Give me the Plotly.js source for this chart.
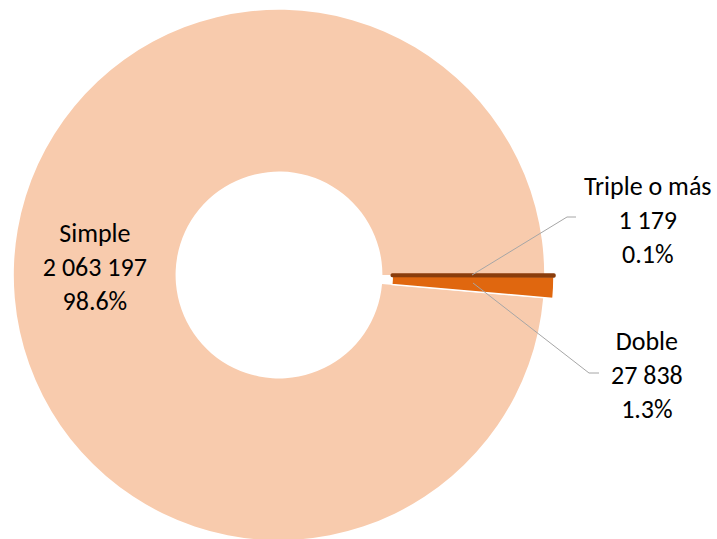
<!DOCTYPE html>
<html>
<head>
<meta charset="utf-8">
<script src="https://cdn.plot.ly/plotly-3.0.1.min.js"></script>
<style>
html,body{margin:0;padding:0;overflow:hidden;background:#fff;}
#chart{width:717px;height:550px;}
</style>
</head>
<body>
<div id="chart"></div>
<script>
const categories = ['Simple', 'Doble', 'Triple o más'];
const values = [2063197, 27838, 1179];
const colors = ['#F8CBAD', '#E0670F', '#8A3D0C'];

const W = 717, H = 550;
const FONT = 'Carlito, Calibri, Lato, sans-serif';
const total = values.reduce((a, b) => a + b, 0);
function fmt(v) { return String(v).replace(/\B(?=(\d{3})+(?!\d))/g, ' '); }
function pct(v) { return (v / total * 100).toFixed(1) + '%'; }
function px(x) { return x / W; }
function py(y) { return 1 - y / H; }

// small slices sit just at / below 3 o'clock
const rotation = 90 + (values[1] + values[2]) / total * 360;

const trace = {
  type: 'pie',
  labels: categories,
  values: values,
  sort: false,
  direction: 'counterclockwise',
  rotation: rotation,
  hole: 0.39,
  pull: [0, 0.037, 0.037],
  marker: {
    colors: colors,
    line: { color: ['#FFFFFF', '#FFFFFF', colors[2]], width: [0, 1.5, 3.5] }
  },
  texttemplate: ['%{label}<br>%{value:,}<br>%{percent:.1%}', '', ''],
  textposition: ['inside', 'none', 'none'],
  insidetextorientation: 'horizontal',
  insidetextfont: { family: FONT, size: 26, color: '#000000' },
  domain: { x: [px(279 - 275), px(279 + 275)], y: [0, 1] },
  showlegend: false,
  hoverinfo: 'label+value+percent'
};

// outside labels for the two small slices (Doble, Triple o más)
const labelPos = { 1: [647, 375], 2: [648, 220] };
const annotations = [1, 2].map(i => ({
  xref: 'paper', yref: 'paper',
  x: px(labelPos[i][0]), y: py(labelPos[i][1]),
  xanchor: 'center', yanchor: 'middle', align: 'center',
  showarrow: false,
  text: categories[i] + '<br>' + fmt(values[i]) + '<br>' + pct(values[i]),
  font: { family: FONT, size: 26, color: '#000000' }
}));

function pathOf(pts) {
  return pts.map((p, k) => (k ? 'L' : 'M') + px(p[0]) + ',' + py(p[1])).join(' ');
}
const shapes = [
  { type: 'path', xref: 'paper', yref: 'paper', path: pathOf([[472, 275], [567, 217], [576, 217]]), line: { color: '#A6A6A6', width: 1 } },
  { type: 'path', xref: 'paper', yref: 'paper', path: pathOf([[473, 283], [589, 373], [599, 373]]), line: { color: '#A6A6A6', width: 1 } }
];

const layout = {
  width: W, height: H,
  margin: { l: 0, r: 0, t: 0, b: 0 },
  paper_bgcolor: '#FFFFFF',
  separators: '. ',
  font: { family: FONT, size: 26, color: '#000000' },
  annotations: annotations,
  shapes: shapes
};

Plotly.newPlot('chart', [trace], layout, { displayModeBar: false, staticPlot: true });
</script>
</body>
</html>
